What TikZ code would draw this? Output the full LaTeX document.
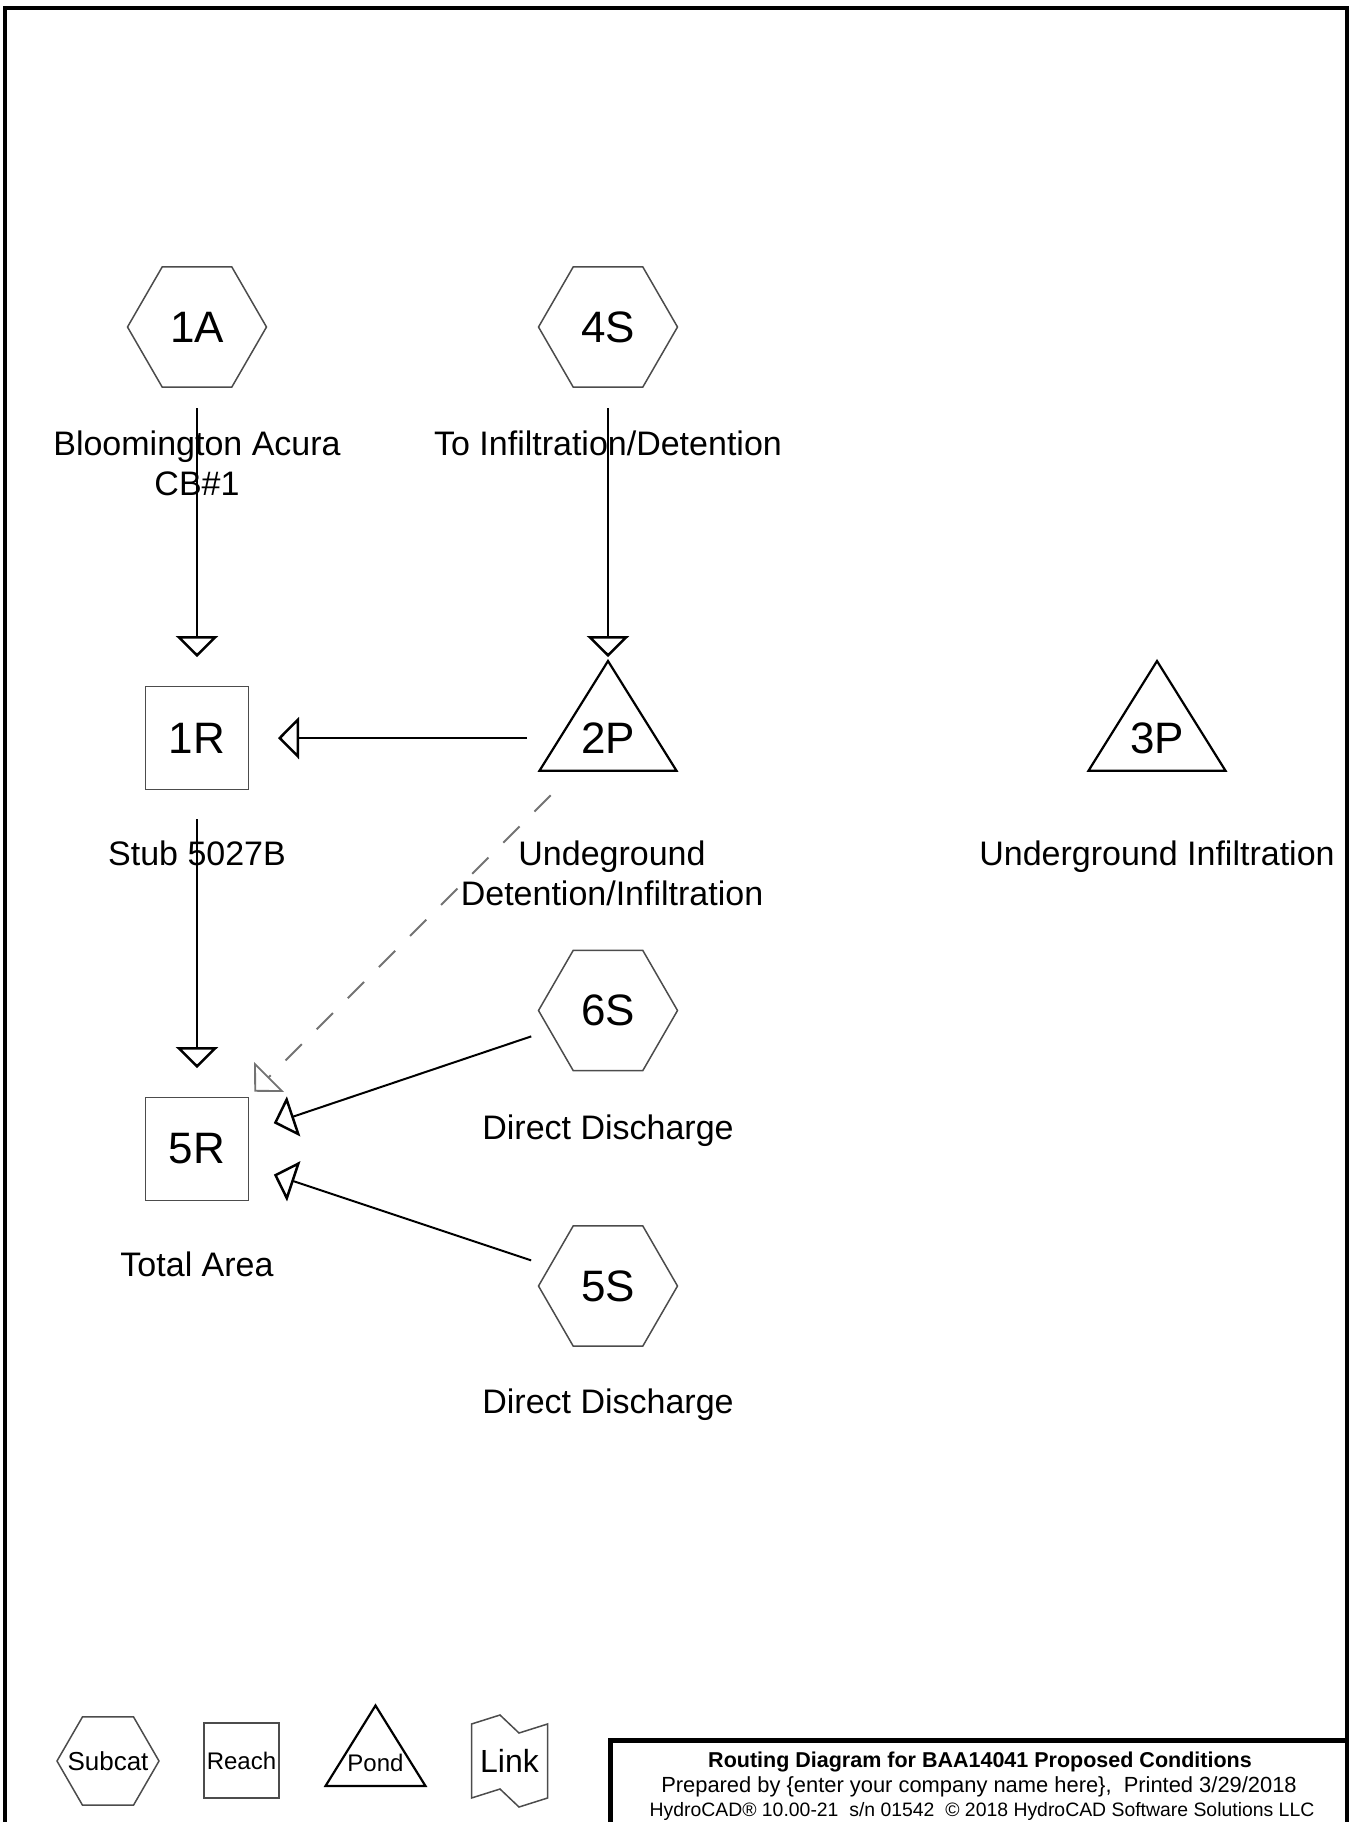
\documentclass[tikz,border=0pt]{standalone}
\usepackage{fontspec}
\setmainfont{Liberation Sans}
\usetikzlibrary{arrows.meta,shapes.geometric}

\begin{document}
\begin{tikzpicture}[x=0.5pt,y=-0.5pt,
	subcat/.style={regular polygon,regular polygon sides=6,draw=black!70,line width=0.75pt,minimum size=69.5pt,inner sep=0pt,font=\fontsize{22}{26}\selectfont},
	reach/.style={rectangle,draw=black!70,line width=0.75pt,minimum size=51.5pt,inner sep=0pt,font=\fontsize{22}{26}\selectfont},
	pond/.style={inner sep=0pt,font=\fontsize{22}{26}\selectfont},
	caption/.style={anchor=north,align=center,inner sep=0pt,font=\fontsize{17}{20}\selectfont},
	flow/.style={line width=1pt,shorten <=40.5pt,shorten >=40.5pt,-{Triangle[open,length=10.5pt,width=21pt,line width=1.25pt]}},
	link/.style={flow,draw=black!55,dash pattern=on 11.5pt off 10.5pt,-{Triangle[open,length=10.5pt,width=21pt,line width=0.9pt]}}]
		\useasboundingbox (0,0) rectangle (1351,1822);
		\draw[line width=2.25pt] (5,1840) -- (5,8) -- (1347,8) -- (1347,1840);
		\foreach \id/\x/\y in {1A/197/327,4S/608/327,6S/608/1010.5,5S/608/1286}
		\node[subcat] (sub\id) at (\x,\y) {\id};
		\foreach \id/\y in {1R/738,5R/1149}
		\node[reach] (rch\id) at (197,\y) {\id};
		\foreach \id/\x in {2P/608,3P/1157}
		{\node[pond] (pnd\id) at (\x,738) {\id};
		\draw[line width=1.1pt] (pnd\id.center) +(0,-77) -- +(68.5,32.7) -- +(-68.5,32.7) -- cycle;}
		\node[caption] (lab1A) at (197,430) {Bloomington Acura\\CB\#1};
		\node[caption] (lab4S) at (608,430) {To Infiltration/Detention};
		\node[caption] (lab1R) at (197,840) {Stub 5027B};
		\node[caption] (lab2P) at (612,840) {Undeground\\Detention/Infiltration};
		\node[caption] (lab3P) at (1157,840) {Underground Infiltration};
		\node[caption] (lab6S) at (608,1114.5) {Direct Discharge};
		\node[caption] (lab5R) at (197,1251.5) {Total Area};
		\node[caption] (lab5S) at (608,1388.5) {Direct Discharge};
		\draw[flow] (sub1A.center) -- (rch1R.center);
		\draw[flow] (sub4S.center) -- (pnd2P.center);
		\draw[flow] (pnd2P.center) -- (rch1R.center);
		\draw[flow] (rch1R.center) -- (rch5R.center);
		\draw[link] (pnd2P.center) -- (rch5R.center);
		\draw[flow] (sub6S.center) -- (rch5R.center);
		\draw[flow] (sub5S.center) -- (rch5R.center);
		\node[subcat,minimum size=51pt,label={[font=\fontsize{13}{15}\selectfont,inner sep=0pt]center:Subcat}] (legSub) at (108,1761) {};
		\node[reach,minimum size=37.5pt,font=\fontsize{12}{14}\selectfont] (legReach) at (241.5,1760.5) {Reach};
		\node[pond,font=\fontsize{12}{14}\selectfont] (legPond) at (375.5,1762.5) {Pond};
		\draw[line width=1.1pt] (legPond.center) +(0,-57) -- +(50,23.5) -- +(-50,23.5) -- cycle;
		\node[font=\fontsize{16}{18}\selectfont,inner sep=0pt] (legLink) at (509.5,1761) {Link};
		\draw[draw=black!70,line width=0.75pt] (legLink.center) +(-38,-37) -- +(-9.5,-46) -- +(9.5,-28) -- +(38,-37) -- +(38,37) -- +(9.5,46) -- +(-9.5,28) -- +(-38,37) -- cycle;
		\draw[line width=2.5pt] (610.5,1840) -- (610.5,1740) -- (1347,1740);
		\node[anchor=base,inner sep=0pt,font=\fontsize{10.75}{12}\selectfont\bfseries] (ttl) at (980,1767.5) {Routing Diagram for BAA14041 Proposed Conditions};
		\node[anchor=base,inner sep=0pt,font=\fontsize{10.95}{12}\selectfont] (prep) at (979,1792.5) {Prepared by \{enter your company name here\},\ \ Printed 3/29/2018};
		\node[anchor=base,inner sep=0pt,font=\fontsize{9.7}{11}\selectfont] (ver) at (982,1816) {HydroCAD® 10.00-21\ \ s/n 01542\ \ © 2018 HydroCAD Software Solutions LLC};
		\end{tikzpicture}
\end{document}
